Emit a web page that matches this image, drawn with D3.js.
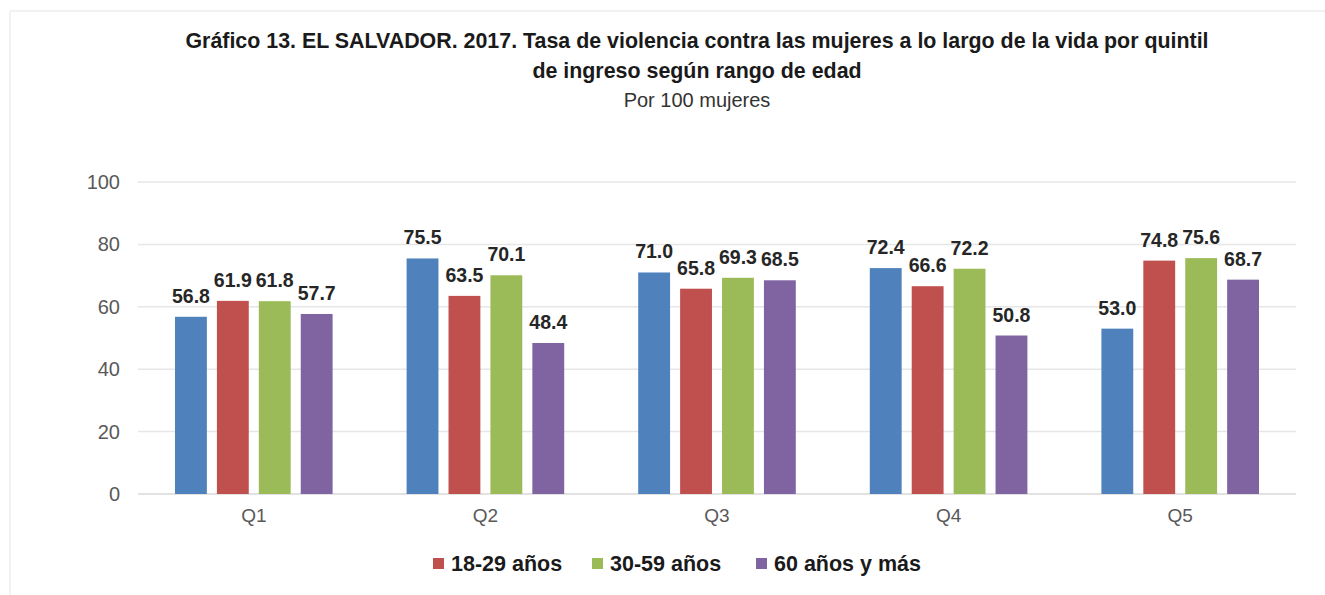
<!DOCTYPE html>
<html>
<head>
<meta charset="utf-8">
<script src="https://cdn.jsdelivr.net/npm/d3@7"></script>
<style>
  body { margin: 0; background: #fff; }
  text { font-family: "Liberation Sans", Arial, sans-serif; }
</style>
</head>
<body>
<div class="canvas"></div>
<script>
// data
var quintiles = ["Q1", "Q2", "Q3", "Q4", "Q5"];
var seriesNames = ["Total", "18-29 años", "30-59 años", "60 años y más"];
var total   = [56.8, 75.5, 71.0, 72.4, 53.0];
var age1829 = [61.9, 63.5, 65.8, 66.6, 74.8];
var age3059 = [61.8, 70.1, 69.3, 72.2, 75.6];
var age60   = [57.7, 48.4, 68.5, 50.8, 68.7];
var yTicks  = [0, 20, 40, 60, 80, 100];
var legendNames = ["18-29 años", "30-59 años", "60 años y más"];

var colors = {"Total": "#4F81BD", "18-29 años": "#C0504D", "30-59 años": "#9BBB59", "60 años y más": "#8064A2"};
var allSeries = [total, age1829, age3059, age60];

var W = 1325, H = 595;
var svg = d3.select(".canvas").append("svg").attr("width", W).attr("height", H);

// faint frame (top + left)
svg.append("line").attr("x1", 10).attr("x2", W).attr("y1", 11).attr("y2", 11).attr("stroke", "#eeeeee").attr("stroke-width", 1.5);
svg.append("line").attr("x1", 10).attr("x2", 10).attr("y1", 11).attr("y2", H).attr("stroke", "#eeeeee").attr("stroke-width", 1.5);

// title
svg.append("text").attr("x", 697).attr("y", 48).attr("text-anchor", "middle")
  .attr("font-size", 21.4).attr("font-weight", "bold").attr("fill", "#1a1a1a")
  .text("Gráfico 13. EL SALVADOR. 2017. Tasa de violencia contra las mujeres a lo largo de la vida por quintil");
svg.append("text").attr("x", 697).attr("y", 78).attr("text-anchor", "middle")
  .attr("font-size", 21.4).attr("font-weight", "bold").attr("fill", "#1a1a1a")
  .text("de ingreso según rango de edad");
svg.append("text").attr("x", 697).attr("y", 107).attr("text-anchor", "middle")
  .attr("font-size", 20).attr("fill", "#333")
  .text("Por 100 mujeres");

var plotLeft = 138, plotRight = 1296, plotTop = 182, plotBottom = 494;

var scaleX = d3.scaleBand().domain(quintiles).range([plotLeft, plotRight]);
var gap = 37;
var scaleX1 = d3.scaleBand().domain(seriesNames).range([gap, scaleX.bandwidth() - gap]).paddingInner(0.24);
var scaleY = d3.scaleLinear().domain([0, 100]).range([plotBottom, plotTop]);

// gridlines
svg.append("g").selectAll("line").data(yTicks).enter().append("line")
  .attr("x1", plotLeft).attr("x2", plotRight)
  .attr("y1", function(d) { return scaleY(d); }).attr("y2", function(d) { return scaleY(d); })
  .attr("stroke", function(d) { return d === 0 ? "#d9d9d9" : "#e6e6e6"; })
  .attr("stroke-width", 1.5);

// y axis labels
var yAxis = d3.axisLeft(scaleY).tickValues(yTicks).tickSize(0).tickPadding(18);
var gy = svg.append("g").attr("transform", "translate(" + plotLeft + ",0)").call(yAxis);
gy.select(".domain").remove();
gy.selectAll("text").attr("font-size", 20).attr("fill", "#595959")
  .style("font-family", "'Liberation Sans', Arial, sans-serif");

// x axis labels
var xAxis = d3.axisBottom(scaleX).tickSize(0).tickPadding(15);
var gx = svg.append("g").attr("transform", "translate(0," + plotBottom + ")").call(xAxis);
gx.select(".domain").remove();
gx.selectAll("text").attr("font-size", 19).attr("fill", "#595959")
  .style("font-family", "'Liberation Sans', Arial, sans-serif");

// bars
var rows = [];
quintiles.forEach(function(q, i) {
  seriesNames.forEach(function(s, j) {
    rows.push({q: q, s: s, v: allSeries[j][i]});
  });
});

svg.append("g").selectAll("rect").data(rows).enter().append("rect")
  .attr("x", function(d) { return scaleX(d.q) + scaleX1(d.s); })
  .attr("width", scaleX1.bandwidth())
  .attr("y", function(d) { return scaleY(d.v); })
  .attr("height", function(d) { return plotBottom - scaleY(d.v); })
  .attr("fill", function(d) { return colors[d.s]; });

svg.append("g").selectAll("text").data(rows).enter().append("text")
  .attr("x", function(d) { return scaleX(d.q) + scaleX1(d.s) + scaleX1.bandwidth() / 2; })
  .attr("y", function(d) { return scaleY(d.v) - 14; })
  .attr("text-anchor", "middle")
  .attr("font-size", 19.5).attr("font-weight", "bold").attr("fill", "#262626")
  .text(function(d) { return d.v.toFixed(1); });

// legend
var legendX = [433, 592, 756];
var lg = svg.append("g").selectAll("g").data(legendNames).enter().append("g")
  .attr("transform", function(d, i) { return "translate(" + legendX[i] + ",564)"; });
lg.append("rect").attr("x", 0).attr("y", -6).attr("width", 11).attr("height", 11)
  .attr("fill", function(d) { return colors[d]; });
lg.append("text").attr("x", 18).attr("y", 7)
  .attr("font-size", 21.5).attr("font-weight", "bold").attr("fill", "#1a1a1a")
  .text(function(d) { return d; });
</script>
</body>
</html>
